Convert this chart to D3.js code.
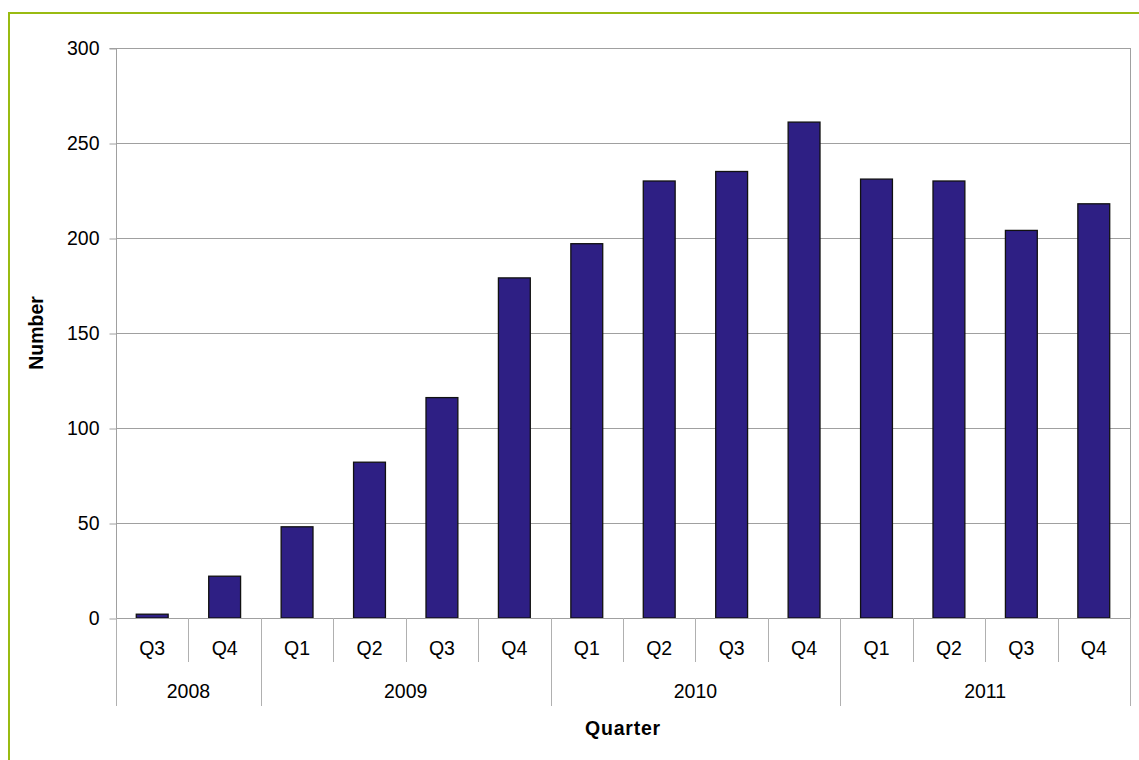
<!DOCTYPE html>
<html><head><meta charset="utf-8">
<script src="https://cdn.jsdelivr.net/npm/d3@7"></script>
<style>body{margin:0;background:#fff}svg{display:block;font-family:"Liberation Sans",Arial,sans-serif}</style>
</head><body>
<svg id="c" width="1139" height="760"></svg>
<script>
const years = ["2008","2009","2010","2011"];
const quarters = [["Q3","Q4"],["Q1","Q2","Q3","Q4"],["Q1","Q2","Q3","Q4"],["Q1","Q2","Q3","Q4"]];
const values = [2,22,48,82,116,179,197,230,235,261,231,230,204,218];
const yTicks = [0,50,100,150,200,250,300];

const svg = d3.select("#c");
const L=116, R=1130, T=48, B=618;
const FS=19.5;
const cats = [];
years.forEach((y,i)=>quarters[i].forEach(q=>cats.push({y,q})));
cats.forEach((c,i)=>c.v=values[i]);
const x = d3.scaleBand().domain(d3.range(cats.length)).range([L,R]).paddingInner(0.56).paddingOuter(0.28);
const xs = d3.scaleLinear().domain([0,cats.length]).range([L,R]);
const y = d3.scaleLinear().domain([0,300]).range([B,T]);

// outer green border
svg.append("path").attr("d",`M9,760 V13 H1139`).attr("fill","none").attr("stroke","#99bb11").attr("stroke-width",2);

// gridlines
svg.append("g").selectAll("line").data(yTicks.filter(d=>d>0)).join("line")
 .attr("x1",L).attr("x2",R).attr("y1",d=>y(d)+0.5).attr("y2",d=>y(d)+0.5)
 .attr("stroke","#a0a0a0").attr("stroke-width",1);
svg.append("line").attr("x1",R+0.5).attr("x2",R+0.5).attr("y1",T).attr("y2",B).attr("stroke","#a0a0a0");

// bars
svg.append("g").selectAll("rect").data(cats).join("rect")
 .attr("x",(d,i)=>x(i)).attr("width",x.bandwidth())
 .attr("y",d=>y(d.v)).attr("height",d=>B-y(d.v))
 .attr("fill","#2e1f84").attr("stroke","#111").attr("stroke-width",1.3);

// y axis
const ya = d3.axisLeft(y).tickValues(yTicks).tickSize(7).tickPadding(10);
const gy = svg.append("g").attr("transform",`translate(${L+0.5},0.5)`).call(ya);
gy.select(".domain").attr("stroke","#a0a0a0").attr("d",`M-7,${T}H0V${B}`);
gy.selectAll(".tick line").attr("stroke","#a0a0a0");
gy.selectAll("text").attr("font-size",FS).attr("fill","#000").attr("font-family","Liberation Sans, Arial, sans-serif");

// x axis baseline
svg.append("line").attr("x1",L).attr("x2",R).attr("y1",B+0.5).attr("y2",B+0.5).attr("stroke","#a0a0a0");

// dividers
let idx=0; const yearBounds=[0];
quarters.forEach(qs=>{idx+=qs.length; yearBounds.push(idx);});
svg.append("g").selectAll("line").data(d3.range(cats.length+1)).join("line")
 .attr("x1",i=>Math.round(xs(i))+0.5).attr("x2",i=>Math.round(xs(i))+0.5)
 .attr("y1",B).attr("y2",i=>yearBounds.includes(i)?706:662)
 .attr("stroke","#b0b0b0");

// quarter labels
svg.append("g").selectAll("text").data(cats).join("text")
 .attr("x",(d,i)=>xs(i+0.5)).attr("y",654.5).attr("text-anchor","middle")
 .attr("font-size",FS).text(d=>d.q);
// year labels
svg.append("g").selectAll("text").data(years).join("text")
 .attr("x",(d,i)=>xs((yearBounds[i]+yearBounds[i+1])/2)).attr("y",698).attr("text-anchor","middle")
 .attr("font-size",FS).text(d=>d);

// axis titles
svg.append("text").attr("x",(L+R)/2).attr("y",735).attr("text-anchor","middle")
 .attr("font-size",FS).attr("font-weight","bold").attr("letter-spacing",0.8).text("Quarter");
svg.append("text").attr("transform",`translate(42.5,${(T+B)/2}) rotate(-90)`).attr("text-anchor","middle")
 .attr("font-size",FS).attr("font-weight","bold").text("Number");
</script>
</body></html>
